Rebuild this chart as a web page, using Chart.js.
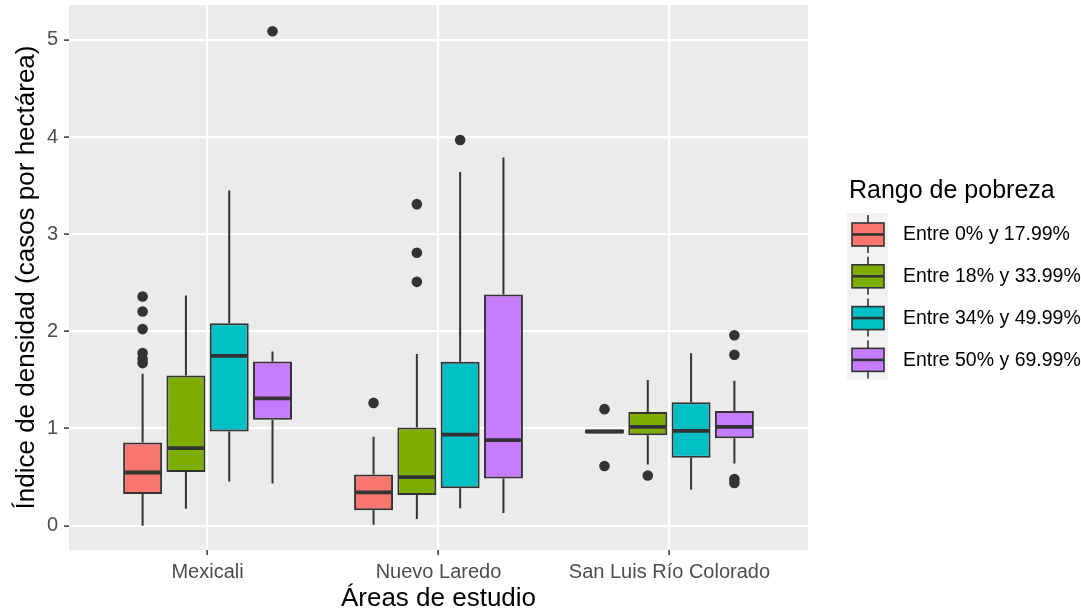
<!DOCTYPE html>
<html>
<head>
<meta charset="utf-8">
<script src="https://cdn.jsdelivr.net/npm/chart.js@4.4.1/dist/chart.umd.min.js"></script>
<style>
  html, body { margin: 0; padding: 0; background: #fff; }
  canvas { display: block; }
</style>
</head>
<body>
<canvas id="boxplot" width="1081" height="614"></canvas>
<script>
const categories = ['Mexicali', 'Nuevo Laredo', 'San Luis Río Colorado'];
const seriesNames = ['Entre 0% y 17.99%', 'Entre 18% y 33.99%', 'Entre 34% y 49.99%', 'Entre 50% y 69.99%'];
const seriesColors = ['#F8766D', '#7CAE00', '#00BFC4', '#C77CFF'];
const yTicks = [0, 1, 2, 3, 4, 5];

// one row per poverty range, one column per study area
const whiskerLow = [
  [0.0, 0.01, 0.95],
  [0.175, 0.07, 0.63],
  [0.456, 0.18, 0.37],
  [0.435, 0.13, 0.64],
];
const q1 = [
  [0.326, 0.16, 0.95],
  [0.552, 0.315, 0.93],
  [0.97, 0.386, 0.70],
  [1.09, 0.485, 0.90],
];
const median = [
  [0.548, 0.343, 0.97],
  [0.799, 0.50, 1.017],
  [1.749, 0.938, 0.976],
  [1.31, 0.88, 1.017],
];
const q3 = [
  [0.857, 0.528, 0.99],
  [1.546, 1.01, 1.17],
  [2.085, 1.689, 1.27],
  [1.69, 2.38, 1.18],
];
const whiskerHigh = [
  [1.564, 0.917, 0.99],
  [2.37, 1.767, 1.50],
  [3.45, 3.64, 1.776],
  [1.793, 3.79, 1.493],
];
const outliers = [
  [[1.674, 1.718, 1.777, 2.024, 2.205, 2.36], [1.264], [0.614, 1.2]],
  [[], [2.51, 2.81, 3.31], [0.517]],
  [[], [3.97], []],
  [[5.09], [], [0.44, 0.48, 1.76, 1.96]],
];

const ink = '#333333';
const fontFamily = '"Liberation Sans", Arial, sans-serif';
Chart.defaults.font.family = fontFamily;

const datasets = seriesNames.map((name, s) => ({
  label: name,
  data: categories.map((c, i) => ({ x: i + 1, y: [q1[s][i], q3[s][i]] })),
  backgroundColor: seriesColors[s],
  borderColor: ink,
  borderWidth: 2,
  borderSkipped: false,
  categoryPercentage: 0.75,
  barPercentage: 0.9,
}));

const boxplotParts = {
  id: 'boxplotParts',
  beforeDraw(chart) {
    const { ctx, chartArea: a } = chart;
    ctx.save();
    ctx.fillStyle = '#EBEBEB';
    ctx.fillRect(a.left, a.top, a.right - a.left, a.bottom - a.top);
    ctx.restore();
  },
  beforeDatasetsDraw(chart) {
    const { ctx } = chart;
    const y = chart.scales.y;
    ctx.save();
    ctx.strokeStyle = ink;
    ctx.lineWidth = 2;
    datasets.forEach((ds, s) => {
      chart.getDatasetMeta(s).data.forEach((bar, i) => {
        ctx.beginPath();
        ctx.moveTo(bar.x, y.getPixelForValue(whiskerLow[s][i]));
        ctx.lineTo(bar.x, y.getPixelForValue(q1[s][i]));
        ctx.moveTo(bar.x, y.getPixelForValue(q3[s][i]));
        ctx.lineTo(bar.x, y.getPixelForValue(whiskerHigh[s][i]));
        ctx.stroke();
      });
    });
    ctx.restore();
  },
  afterDatasetsDraw(chart) {
    const { ctx } = chart;
    const y = chart.scales.y;
    ctx.save();
    datasets.forEach((ds, s) => {
      chart.getDatasetMeta(s).data.forEach((bar, i) => {
        // median
        const my = y.getPixelForValue(median[s][i]);
        ctx.strokeStyle = ink;
        ctx.lineWidth = 3.8;
        ctx.beginPath();
        ctx.moveTo(bar.x - bar.width / 2 + 1, my);
        ctx.lineTo(bar.x + bar.width / 2 - 1, my);
        ctx.stroke();
        // outliers
        ctx.fillStyle = ink;
        outliers[s][i].forEach((v) => {
          ctx.beginPath();
          ctx.arc(bar.x, y.getPixelForValue(v), 5.3, 0, Math.PI * 2);
          ctx.fill();
        });
      });
    });
    ctx.restore();
  },
  afterDraw(chart) {
    const { ctx } = chart;
    ctx.save();
    ctx.fillStyle = '#000000';
    ctx.font = '25px ' + fontFamily;
    ctx.textBaseline = 'alphabetic';
    ctx.fillText('Rango de pobreza', 849, 198);
    const keyH = 41.8;
    seriesNames.forEach((name, s) => {
      const top = 213 + s * keyH;
      ctx.fillStyle = '#F2F2F2';
      ctx.fillRect(847, top, 41, keyH);
      ctx.strokeStyle = ink;
      ctx.lineWidth = 1.6;
      ctx.beginPath();
      ctx.moveTo(868, top + 2);
      ctx.lineTo(868, top + 10);
      ctx.moveTo(868, top + 33);
      ctx.lineTo(868, top + 40);
      ctx.stroke();
      ctx.fillStyle = seriesColors[s];
      ctx.fillRect(852, top + 10, 32, 23);
      ctx.strokeRect(852, top + 10, 32, 23);
      ctx.lineWidth = 2.6;
      ctx.beginPath();
      ctx.moveTo(852, top + 21.5);
      ctx.lineTo(884, top + 21.5);
      ctx.stroke();
      ctx.fillStyle = '#000000';
      ctx.font = '19.5px ' + fontFamily;
      ctx.textBaseline = 'middle';
      ctx.fillText(name, 903, top + 22);
    });
    ctx.restore();
  },
};

const isMajor = (v) => Number.isInteger(v);

new Chart(document.getElementById('boxplot'), {
  type: 'bar',
  data: { datasets },
  plugins: [boxplotParts],
  options: {
    responsive: false,
    animation: false,
    layout: { padding: { top: 5, right: 273, left: 0, bottom: 0 } },
    plugins: {
      legend: { display: false },
      tooltip: { enabled: false },
    },
    scales: {
      x: {
        type: 'linear',
        min: 0.4,
        max: 3.6,
        offset: false,
        afterBuildTicks: (scale) => {
          scale.ticks = categories.map((c, i) => ({ value: i + 1 }));
        },
        afterFit: (scale) => {
          scale.height = 64;
          scale.paddingLeft = 0;
          scale.paddingRight = 0;
        },
        grid: {
          offset: false,
          color: '#FFFFFF',
          lineWidth: 2.2,
          tickLength: 5,
          tickColor: ink,
          tickWidth: 1.5,
        },
        border: { display: false },
        ticks: {
          autoSkip: false,
          maxRotation: 0,
          padding: 5,
          color: '#4D4D4D',
          font: { size: 20 },
          callback: (v) => categories[v - 1],
        },
        title: {
          display: true,
          text: 'Áreas de estudio',
          color: '#000000',
          font: { size: 26, lineHeight: 1.15 },
          padding: { top: 0, bottom: 0 },
        },
      },
      y: {
        min: -0.25,
        max: 5.36,
        afterBuildTicks: (scale) => {
          const majors = yTicks.map((t) => ({ value: t }));
          const minors = yTicks.slice(1).map((t, i) => ({ value: (t + yTicks[i]) / 2 }));
          scale.ticks = majors.concat(minors);
        },
        afterFit: (scale) => {
          scale.width = 69;
          scale.paddingTop = 0;
          scale.paddingBottom = 0;
        },
        grid: {
          color: '#FFFFFF',
          lineWidth: (c) => (isMajor(c.tick.value) ? 2.2 : 1.1),
          tickLength: 5,
          tickColor: (c) => (isMajor(c.tick.value) ? ink : 'rgba(0,0,0,0)'),
          tickWidth: 1.5,
        },
        border: { display: false },
        ticks: {
          autoSkip: false,
          padding: 6,
          color: '#4D4D4D',
          font: { size: 20 },
          callback: (v) => (isMajor(v) ? String(v) : null),
        },
        title: {
          display: true,
          text: 'Índice de densidad (casos por hectárea)',
          color: '#000000',
          font: { size: 26, lineHeight: 1.15 },
          padding: { top: 12, bottom: 0 },
        },
      },
    },
  },
});
</script>
</body>
</html>
